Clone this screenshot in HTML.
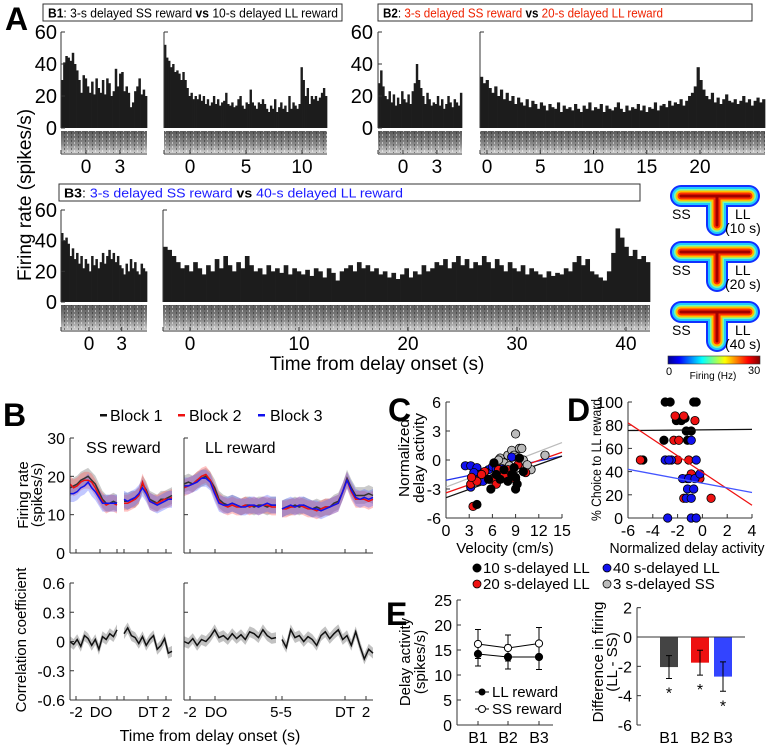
<!DOCTYPE html>
<html><head><meta charset="utf-8">
<style>
html,body{margin:0;padding:0;background:#fff;}
svg{display:block;font-family:"Liberation Sans",sans-serif;}
</style></head>
<body>
<svg id="fig" width="767" height="749" viewBox="0 0 767 749" xmlns="http://www.w3.org/2000/svg">
<defs>
<linearGradient id="rasterGrad" x1="0" y1="0" x2="0" y2="1">
<stop offset="0" stop-color="#5a5a5a"/><stop offset="0.6" stop-color="#8a8a8a"/><stop offset="1" stop-color="#d0d0d0"/>
</linearGradient>
<pattern id="rasterPat" width="7" height="4" patternUnits="userSpaceOnUse">
<rect width="7" height="4" fill="none"/>
<rect x="1" y="0" width="1" height="2" fill="#222" opacity="0.5"/>
<rect x="4" y="2" width="1" height="2" fill="#fff" opacity="0.5"/>
</pattern>
<linearGradient id="jet" x1="0" y1="0" x2="1" y2="0">
<stop offset="0" stop-color="#00008f"/><stop offset="0.12" stop-color="#0000ff"/><stop offset="0.37" stop-color="#00ffff"/><stop offset="0.62" stop-color="#ffff00"/><stop offset="0.87" stop-color="#ff0000"/><stop offset="1" stop-color="#800000"/>
</linearGradient>
</defs>

<text x="5" y="30" font-size="32" font-weight="bold">A</text>
<text x="3" y="426" font-size="32" font-weight="bold">B</text>
<text x="388" y="421" font-size="32" font-weight="bold">C</text>
<text x="567" y="421" font-size="32" font-weight="bold">D</text>
<text x="386" y="625" font-size="32" font-weight="bold">E</text>

<g>
<rect x="43" y="4" width="299" height="17" fill="#fff" stroke="#333" stroke-width="1"/>
<text x="48" y="17.5" font-size="13" textLength="290" lengthAdjust="spacingAndGlyphs"><tspan font-weight="bold">B1</tspan>: 3-s delayed SS reward <tspan font-weight="bold">vs</tspan> 10-s delayed LL reward</text>
</g>
<g>
<rect x="378" y="4" width="374" height="17" fill="#fff" stroke="#333" stroke-width="1"/>
<text x="383" y="17.5" font-size="13" textLength="280" lengthAdjust="spacingAndGlyphs"><tspan font-weight="bold">B2</tspan>: <tspan fill="#ee2200">3-s delayed SS reward</tspan> <tspan font-weight="bold">vs</tspan> <tspan fill="#ee2200">20-s delayed LL reward</tspan></text>
</g>
<g>
<rect x="59" y="184" width="581" height="17" fill="#fff" stroke="#333" stroke-width="1"/>
<text x="64" y="197.5" font-size="13" textLength="339" lengthAdjust="spacingAndGlyphs"><tspan font-weight="bold">B3</tspan>: <tspan fill="#1a1aff">3-s delayed SS reward</tspan> <tspan font-weight="bold">vs</tspan> <tspan fill="#1a1aff">40-s delayed LL reward</tspan></text>
</g>

<text transform="translate(31,195) rotate(-90)" text-anchor="middle" font-size="19">Firing rate (spikes/s)</text>
<text x="377" y="370" text-anchor="middle" font-size="19">Time from delay onset (s)</text>

<g font-size="16">
<rect x="100" y="414" width="7" height="2.5" fill="#111"/><text x="110" y="421">Block 1</text>
<rect x="178" y="414" width="7" height="2.5" fill="#ee1111"/><text x="189" y="421">Block 2</text>
<rect x="258" y="414" width="7" height="2.5" fill="#1111ee"/><text x="270" y="421">Block 3</text>
</g>
<text x="86" y="453" font-size="16">SS reward</text>
<text x="205" y="453" font-size="16">LL reward</text>
<text transform="translate(28,495) rotate(-90)" text-anchor="middle" font-size="15">Firing rate</text>
<text transform="translate(42,495) rotate(-90)" text-anchor="middle" font-size="15">(spikes/s)</text>
<text transform="translate(26,640) rotate(-90)" text-anchor="middle" font-size="15">Correlation coefficient</text>
<text x="210" y="741" text-anchor="middle" font-size="16">Time from delay onset (s)</text>

<text transform="translate(409,458) rotate(-90)" text-anchor="middle" font-size="15" textLength="78" lengthAdjust="spacingAndGlyphs">Normalized</text>
<text transform="translate(424,458) rotate(-90)" text-anchor="middle" font-size="15" textLength="90" lengthAdjust="spacingAndGlyphs">delay activity</text>
<text x="505" y="553" text-anchor="middle" font-size="15">Velocity (cm/s)</text>
<text transform="translate(601,460) rotate(-90)" text-anchor="middle" font-size="14" textLength="122" lengthAdjust="spacingAndGlyphs">% Choice to LL reward</text>
<text x="687" y="553" text-anchor="middle" font-size="15" textLength="155" lengthAdjust="spacingAndGlyphs">Normalized delay activity</text>

<g font-size="15">
<circle cx="477" cy="568" r="4" fill="#000" stroke="#000"/><text x="483" y="573">10 s-delayed LL</text>
<circle cx="477" cy="584" r="4" fill="#ee1111" stroke="#000" stroke-width="0.8"/><text x="483" y="589">20 s-delayed LL</text>
<circle cx="607" cy="568" r="4" fill="#1111ee" stroke="#000" stroke-width="0.8"/><text x="613" y="573">40 s-delayed LL</text>
<circle cx="607" cy="584" r="4" fill="#bbb" stroke="#000" stroke-width="0.8"/><text x="613" y="589">3 s-delayed SS</text>
</g>

<text transform="translate(410,662) rotate(-90)" text-anchor="middle" font-size="15">Delay activity</text>
<text transform="translate(425,662) rotate(-90)" text-anchor="middle" font-size="15">(spikes/s)</text>
<g font-size="15">
<line x1="475" y1="692" x2="489" y2="692" stroke="#000"/><circle cx="482" cy="692" r="3.5" fill="#000"/><text x="492" y="697">LL reward</text>
<line x1="475" y1="709" x2="489" y2="709" stroke="#000"/><circle cx="482" cy="709" r="3.5" fill="#fff" stroke="#000"/><text x="492" y="714">SS reward</text>
</g>
<text transform="translate(603,662) rotate(-90)" text-anchor="middle" font-size="15">Difference in firing</text>
<text transform="translate(617,662) rotate(-90)" text-anchor="middle" font-size="15">(LL - SS)</text>

<rect x="668" y="356" width="92" height="8" fill="url(#jet)" stroke="#333" stroke-width="0.6"/>
<text x="666" y="375" font-size="11">0</text>
<text x="713" y="379" text-anchor="middle" font-size="10">Firing (Hz)</text>
<text x="748" y="374" font-size="11">30</text>

<script>
// ---------- DATA ----------
const b1SS = [30,41,45,44,42,47,40,36,30,22,33,31,26,22,29,21,31,25,22,30,21,31,28,20,23,37,26,34,35,23,26,22,13,16,23,26,31,21,24,20];
const b1LL = [52,44,42,38,40,35,36,34,30,35,30,25,20,22,18,20,18,21,17,20,15,18,14,16,20,15,18,14,16,17,22,15,14,16,13,14,18,20,14,12,16,15,24,16,14,12,16,15,18,15,12,10,14,12,18,10,13,16,12,14,10,20,12,16,14,12,15,38,30,20,25,15,20,18,20,17,19,22,25,20];
const b2SS = [28,36,26,20,18,23,16,21,14,19,15,23,18,16,21,15,23,28,40,30,25,20,15,22,18,14,16,15,20,14,18,12,15,20,16,13,18,16,14,22];
const b2LL = [32,28,30,25,22,26,20,24,18,22,17,20,15,19,16,14,18,13,17,15,12,16,14,11,15,13,12,16,10,14,12,13,11,15,12,10,14,12,16,11,13,12,15,10,14,12,11,13,16,12,10,14,11,13,12,15,11,14,10,13,12,16,11,14,15,13,17,14,16,15,18,14,17,20,22,26,38,30,24,20,18,22,16,19,15,18,21,17,16,18,15,17,20,16,18,14,17,19,16,18];
const b3SS = [45,40,42,38,30,35,28,32,25,30,22,28,25,20,30,24,28,22,26,32,25,30,34,28,32,26,30,24,22,18,25,20,28,22,26,20,18,25,22,20];
const b3LL = [36,34,30,26,22,24,20,26,22,18,24,20,28,22,30,24,20,26,22,30,24,20,22,18,24,20,22,19,24,18,22,20,18,21,17,22,20,16,22,19,14,20,22,24,20,26,22,24,20,22,18,20,16,19,15,18,22,16,20,18,24,20,22,26,24,28,22,26,30,24,28,22,26,24,30,26,22,28,24,20,26,22,20,24,18,22,20,18,16,20,17,19,18,22,20,26,30,24,28,20,18,16,14,20,32,48,42,36,30,34,28,30,26];
const histTicks = [0,20,40,60];

const ssSeg1B1 = [17,17.5,18,19,19.5,20,19,18,16,14,13,13,13.5,13];
const ssSeg1B2 = [18,17,17.5,18.5,19,19,18.5,17,15,13.5,12.5,13,13,12.5];
const ssSeg1B3 = [15.5,15.5,16,17,17.5,18.5,17,16,14.5,13,13,13,13,13];
const ssSeg2B1 = [13.5,13.5,14,14,15,18,16.5,14,13.5,13,14,14,14.5,15];
const ssSeg2B2 = [13,13,13.5,14,15,18.5,16,13.5,13,13,13.5,14,14,14.5];
const ssSeg2B3 = [14,13.5,14,14.5,15.5,17,15.5,13.5,13,12.5,13,13.5,14,14];
const llSeg1B1 = [18,18.5,18,19,19.5,20,19,17,14,13,12.5,13,12.5,12,12.5,12.5,12,12.5,12.5,12,12.5,12.5];
const llSeg1B2 = [17,17.5,18,19,20,20.5,19,16,13.5,12.5,12,12.5,12,12,12.5,12,12.5,12,12.5,12.5,12,12];
const llSeg1B3 = [17.5,17.5,18,18.5,19.5,19.5,18.5,15.5,13,12.5,12.5,13,12.5,12,12,12.5,12.5,12,12.5,13,12.5,12.5];
const llSeg2B1 = [11.5,12,12,12.5,12,12.5,12,11.5,12,11.5,12,12,13,13.5,16,19.5,17,15,15,15,15.5,15];
const llSeg2B2 = [11.5,11.5,12,12,12.5,12,11.5,11.5,11,11.5,12,12,12.5,13,16,19,16,14,14,14,13.5,14];
const llSeg2B3 = [11.5,12,12.5,12,12.5,12.5,12,11.5,11.5,11,11.5,12,12.5,13,16,19,16.5,14.5,14,14.5,14,14.5];
const corrSS1 = [0,-0.03,0.02,-0.05,0.06,0.03,-0.04,0.02,-0.08,0.05,0.02,0.08,0.05,0.12];
const corrSS2 = [0.08,0.14,0.06,0.04,-0.02,0.05,-0.04,0.02,0.06,-0.08,-0.04,0.03,-0.12,-0.1];
const corrLL1 = [0,-0.02,0.03,-0.04,0.02,0,0.05,0.12,0.04,0.06,0.02,0.08,0.03,0.07,0.02,0.1,0.08,0.04,0.12,0.06,0.03,0.04];
const corrLL2 = [0.02,-0.06,0.12,0.04,0.06,0,0.05,0.02,-0.04,0.06,0.1,0.03,0.08,0.12,0.02,0.06,-0.04,0.1,-0.05,-0.18,-0.08,-0.12];
const frTicks = [0,10,20,30];
const corrTicks = [-0.6,-0.3,0,0.3,0.6];

const cBlackX = [4,5.5,5.8,6.5,7,7.5,8,8.5,9,9,9.5,9.2,8.8,10,6.2];
const cBlackY = [-4.6,-2,-3,-1.5,-2,-1,-2.2,-1.5,-3,-1.8,0.2,-2.5,-0.8,-1.2,-0.3];
const cRedX = [3.2,3.5,4,5,6,6.5,7,7.5,8,9,9.3,10.3,4.6,6.8,3.3];
const cRedY = [-2.5,-4.8,-2.2,-1.2,-2,-2.5,-1.8,-1.6,-1,-2,-0.5,-1.3,-1.5,-1,-1.8];
const cBlueX = [2.5,3.2,3.2,4,4.3,4.8,5.5,6,6.5,7.3,5.7,8.5,7,3.6,6.2];
const cBlueY = [-0.6,-0.6,-2.8,-0.8,-1.5,-2.2,-1,-0.7,-0.9,-0.9,-2,0.3,-1.4,-1.3,-1.8];
const cGrayX = [7,7.5,8,8.2,8.5,9,9.5,10,11,12.8,6.5,7.8,8.8,6.8,9.2,9.8,7.2,10.5,8];
const cGrayY = [0.2,-0.3,0.5,-0.6,1,2.7,1.2,0,-1,0.5,-0.8,-1.7,0.5,0,0.3,1.2,-1.5,-0.5,-1.3];
const cSlopes = [0.287,0.28,0.167,0.307];
const cIntercepts = [-3.9,-3.4,-2.1,-2.8];
const cXTicks = [0,3,6,9,12,15];
const cYTicks = [-6,-3,0,3,6];

const dBlackX = [-3,-2.6,-0.7,-0.5,-3.1,-1.3,-0.9,-1.7,-1.4,-2.1,-4.8,-1.2];
const dBlackY = [100,100,100,100,67,75,75,84,86,84,50,67];
const dRedX = [-5,-2.2,-1.5,-0.6,-2.3,-1.9,-1.1,-2,-1.5,0.7,-0.2,-1.2,-0.9];
const dRedY = [50,88,88,84,67,67,50,50,17,17,34,34,38];
const dBlueX = [-2.8,-0.9,-0.5,-3,-2.5,-0.5,-0.9,-1.6,-1.1,-0.6,-0.2,-1.2,-0.7,-1.3,-0.9,-2.7];
const dBlueY = [0,0,0,50,50,50,67,34,34,34,38,25,25,17,17,50];
const dSlopes = [0.1,-7.1,-2];
const dIntercepts = [76,39.4,30];
const dXTicks = [-6,-4,-2,0,2,4];
const dYTicks = [0,20,40,60,80,100];

const eCats = ['B1','B2','B3'];
const eLL = [14.2,13.6,13.6];
const eLLErr = [2.4,2.4,2.5];
const eSS = [16.2,15.4,16.3];
const eSSErr = [2.9,2.6,3.2];
const eYTicks = [0,5,10,15,20,25];
const diffVals = [-2.05,-1.75,-2.7];
const diffErr = [0.78,0.85,1.0];
const diffYTicks = [-6,-4,-2,0,2];

// ---------- DRAW ----------
const NS='http://www.w3.org/2000/svg';
const svg=document.getElementById('fig');
function mk(tag,attrs,parent){const e=document.createElementNS(NS,tag);for(const k in attrs)e.setAttribute(k,attrs[k]);(parent||svg).appendChild(e);return e;}
function lin(d0,d1,r0,r1){return v=>r0+(v-d0)*(r1-r0)/(d1-d0);}

function hist(vals,x0,x1,base,top,name){
  const y=lin(0,60,base,top);const w=(x1-x0)/vals.length;
  const g=mk('g',{});
  
  
  vals.forEach((v,i)=>{
    const r=mk('rect',{x:x0+i*w,y:y(v),width:w+0.35,height:base-y(v),fill:'#1c1c1c'},g);
    
    
  });
}
function raster(x0,x1,y0,y1,name){
  const a=mk('rect',{x:x0,y:y0,width:x1-x0,height:y1-y0,fill:'url(#rasterGrad)'});
  
  
  const b=mk('rect',{x:x0,y:y0,width:x1-x0,height:y1-y0,fill:'url(#rasterPat)'});
  
  
}
function yAxisHist(x,base,top,labels,name,labelX){
  const y=lin(0,60,base,top);
  const l=mk('line',{x1:x,y1:top,x2:x,y2:base,stroke:'#333','stroke-width':1});
  
  
  histTicks.forEach(t=>{
    if(!labels && t!==60) return;
    mk('line',{x1:x,y1:y(t),x2:x+4,y2:y(t),stroke:'#333'});
    if(labels){
      const tx=mk('text',{x:labelX,y:y(t)+7,'text-anchor':'end','font-size':20});
      tx.textContent=t;
      
      
    }
  });
}
function xAxisTime(x0,x1,yAx,zeroX,pxPerS,ticks,name){
  const l=mk('line',{x1:x0,y1:yAx,x2:x1,y2:yAx,stroke:'#333'});
  
  
  mk('line',{x1:x0,y1:yAx-4,x2:x0,y2:yAx,stroke:'#333'});
  ticks.forEach(t=>{
    const x=zeroX+t*pxPerS;
    mk('line',{x1:x,y1:yAx-4,x2:x,y2:yAx,stroke:'#333'});
    const tx=mk('text',{x:x,y:yAx+19,'text-anchor':'middle','font-size':19});
    tx.textContent=t;
    
    
  });
}
hist(b1SS,61,147,128,32,'b1-ss-histogram');hist(b1LL,164,327,128,32,'b1-ll-histogram');
raster(61,147,131,153,'b1-ss-raster');raster(164,327,131,153,'b1-ll-raster');
yAxisHist(61,128,32,true,'b1-y-axis',57);yAxisHist(164,128,32,false,'b1-ll-y-axis');
xAxisTime(61,147,154,86,11.3,[0,3],'b1-ss-x-axis');xAxisTime(164,327,154,190,11.2,[0,5,10],'b1-ll-x-axis');
hist(b2SS,378,462,128,32,'b2-ss-histogram');hist(b2LL,480,765,128,32,'b2-ll-histogram');
raster(378,462,131,153,'b2-ss-raster');raster(480,765,131,153,'b2-ll-raster');
yAxisHist(378,128,32,true,'b2-y-axis',373);yAxisHist(480,128,32,false,'b2-ll-y-axis');
xAxisTime(378,462,154,403,11.3,[0,3],'b2-ss-x-axis');xAxisTime(480,765,154,487,10.65,[0,5,10,15,20],'b2-ll-x-axis');
hist(b3SS,61,147,302,210,'b3-ss-histogram');hist(b3LL,163,650,302,210,'b3-ll-histogram');
raster(61,147,305,330,'b3-ss-raster');raster(163,650,305,330,'b3-ll-raster');
yAxisHist(61,302,210,true,'b3-y-axis',57);yAxisHist(163,302,210,false,'b3-ll-y-axis');
xAxisTime(61,147,331,89,10.9,[0,3],'b3-ss-x-axis');xAxisTime(163,650,331,190,10.9,[0,10,20,30,40],'b3-ll-x-axis');

const heatTops=[185,241,301];const heatLabels=['(10 s)','(20 s)','(40 s)'];
const heatCols=[['#1030ff',22],['#20c8ff',18],['#70ffb0',14],['#ffc000',11],['#ff3000',7],['#a00000',3]];
heatTops.forEach((t,i)=>{
  const g=mk('g',{});
  
  
  heatCols.forEach(([c,w])=>{
    mk('path',{d:`M681 ${t+11} L749 ${t+11} M717 ${t+11} L717 ${t+40}`,stroke:c,'stroke-width':w,'stroke-linecap':'round','stroke-linejoin':'round',fill:'none'},g);
  });
  const s=mk('text',{x:672,y:t+34,'font-size':14},g);s.textContent='SS';
  const l=mk('text',{x:735,y:t+34,'font-size':14},g);l.textContent='LL';
  const d=mk('text',{x:725,y:t+48,'font-size':14},g);d.textContent=heatLabels[i];
});

const frY=lin(0,30,553,438);const crY=lin(0,0.6,641.5,583);
function seriesPath(vals,x0,x1,yf){const n=vals.length;return vals.map((v,i)=>(i?'L':'M')+(x0+i*(x1-x0)/(n-1)).toFixed(1)+' '+yf(v).toFixed(1)).join(' ');}
function band(vals,x0,x1,yf,err){const n=vals.length;let d='';vals.forEach((v,i)=>{d+=(i?'L':'M')+(x0+i*(x1-x0)/(n-1)).toFixed(1)+' '+yf(v+err).toFixed(1);});for(let i=n-1;i>=0;i--){d+='L'+(x0+i*(x1-x0)/(n-1)).toFixed(1)+' '+yf(vals[i]-err).toFixed(1);}return d+'Z';}
const segs=[[70,117],[124,172],[184,276],[282,373]];
const frData=[[ssSeg1B1,ssSeg1B2,ssSeg1B3],[ssSeg2B1,ssSeg2B2,ssSeg2B3],[llSeg1B1,llSeg1B2,llSeg1B3],[llSeg2B1,llSeg2B2,llSeg2B3]];
const blockCols=['#333','#ee1111','#1111ee'];const bandCols=['#666','#ff5050','#5060ff'];
frData.forEach((blocks,si)=>{
  const [x0,x1]=segs[si];
  blocks.forEach((vals,bi)=>{
    const b=mk('path',{d:band(vals,x0,x1,frY,2.2),fill:bandCols[bi],opacity:0.35});
    
    
  });
  [0,1,2].forEach(bi=>{
    const p=mk('path',{d:seriesPath(blocks[bi],x0,x1,frY),stroke:blockCols[bi],'stroke-width':1.5,fill:'none'});
    
    
  });
});
[corrSS1,corrSS2,corrLL1,corrLL2].forEach((vals,si)=>{
  const [x0,x1]=segs[si];
  const b=mk('path',{d:band(vals,x0,x1,crY,0.055),fill:'#999',opacity:0.6});
  
  
  const p=mk('path',{d:seriesPath(vals,x0,x1,crY),stroke:'#111','stroke-width':1.5,fill:'none'});
  
  
});
function bAxes(ax,x0,x1,yTop,yBot,ticks,yf,labels,fmt){
  mk('line',{x1:ax,y1:yTop,x2:ax,y2:yBot,stroke:'#333'});
  mk('line',{x1:x0,y1:yBot,x2:x1,y2:yBot,stroke:'#333'});
  ticks.forEach(t=>{
    mk('line',{x1:ax,y1:yf(t),x2:ax+4,y2:yf(t),stroke:'#333'});
    if(labels){const tx=mk('text',{x:ax-5,y:yf(t)+6,'text-anchor':'end','font-size':16});tx.textContent=fmt(t);
      
      }
  });
}
bAxes(70,70,172,438,553,frTicks,frY,true,t=>t);bAxes(184,184,373,438,553,[10,30],frY,false);
bAxes(70,70,172,583,700,corrTicks,crY,true,t=>t===0?'0':t.toFixed(1));bAxes(184,184,373,583,700,[0.3,0.6],crY,false);
[[76,100,117,124,148,166],[190,215,276,282,345,366]].forEach(xs=>xs.forEach(x=>{mk('line',{x1:x,y1:549,x2:x,y2:553,stroke:'#333'});mk('line',{x1:x,y1:696,x2:x,y2:700,stroke:'#333'});}));
[['-2',76],['DO',101],['DT',148],['2',166],['-2',190],['DO',216],['5-5',281],['DT',345],['2',366]].forEach(([s,x])=>{
  const tx=mk('text',{x:x,y:717,'text-anchor':'middle','font-size':15});tx.textContent=s;
  
  
});

const cx=lin(0,15,446,562),cy=lin(-6,6,518,402);
mk('line',{x1:446,y1:402,x2:446,y2:518,stroke:'#333'});mk('line',{x1:446,y1:518,x2:562,y2:518,stroke:'#333'});
cXTicks.forEach(t=>{mk('line',{x1:cx(t),y1:514,x2:cx(t),y2:518,stroke:'#333'});const tx=mk('text',{x:cx(t),y:536,'text-anchor':'middle','font-size':16});tx.textContent=t;
  
  });
cYTicks.forEach(t=>{mk('line',{x1:446,y1:cy(t),x2:450,y2:cy(t),stroke:'#333'});const tx=mk('text',{x:441,y:cy(t)+6,'text-anchor':'end','font-size':16});tx.textContent=t;
  
  });
const cLineCols=['#111','#ee1111','#2233ee','#bbb'];
const cGroups=[[cBlackX,cBlackY,'#000'],[cRedX,cRedY,'#ee1111'],[cBlueX,cBlueY,'#1111ee'],[cGrayX,cGrayY,'#bbb']];
[3,2,1,0].forEach(i=>{
  const p=mk('line',{x1:cx(0),y1:cy(cIntercepts[i]),x2:cx(15),y2:cy(cIntercepts[i]+cSlopes[i]*15),stroke:cLineCols[i],'stroke-width':1.3});
  
  
});
[3,2,1,0].forEach(gi=>{const [xs,ys,c]=cGroups[gi];xs.forEach((x,i)=>{
  const d=mk('circle',{cx:cx(x),cy:cy(ys[i]),r:4.2,fill:c,stroke:'#000','stroke-width':0.8});
  
  
});});

const dx=lin(-6,4,628,752),dy=lin(0,100,518,402);
mk('line',{x1:628,y1:402,x2:628,y2:518,stroke:'#333'});mk('line',{x1:628,y1:518,x2:752,y2:518,stroke:'#333'});
dXTicks.forEach(t=>{mk('line',{x1:dx(t),y1:514,x2:dx(t),y2:518,stroke:'#333'});const tx=mk('text',{x:dx(t),y:536,'text-anchor':'middle','font-size':16});tx.textContent=t;
  
  });
dYTicks.forEach(t=>{mk('line',{x1:628,y1:dy(t),x2:632,y2:dy(t),stroke:'#333'});const tx=mk('text',{x:623,y:dy(t)+6,'text-anchor':'end','font-size':16});tx.textContent=t;
  
  });
[[dBlackX,dBlackY,'#000'],[dRedX,dRedY,'#ee1111'],[dBlueX,dBlueY,'#1111ee']].forEach(([xs,ys,c])=>xs.forEach((x,i)=>{
  const d=mk('circle',{cx:dx(x),cy:dy(ys[i]),r:4.2,fill:c,stroke:'#000','stroke-width':0.8});
  
  
}));
const dLineCols=['#111','#ee1111','#4455ff'];
dSlopes.forEach((s,i)=>{
  const p=mk('line',{x1:dx(-6),y1:dy(dIntercepts[i]+s*-6),x2:dx(4),y2:dy(dIntercepts[i]+s*4),stroke:dLineCols[i],'stroke-width':1.3});
  
  
});

const ex=[478,508,539];const ey=lin(0,25,725,600);
mk('line',{x1:457,y1:600,x2:457,y2:725,stroke:'#333'});mk('line',{x1:457,y1:725,x2:553,y2:725,stroke:'#333'});
eYTicks.forEach(t=>{mk('line',{x1:457,y1:ey(t),x2:461,y2:ey(t),stroke:'#333'});const tx=mk('text',{x:452,y:ey(t)+6,'text-anchor':'end','font-size':16});tx.textContent=t;
  
  });
eCats.forEach((c,i)=>{mk('line',{x1:ex[i],y1:721,x2:ex[i],y2:725,stroke:'#333'});const tx=mk('text',{x:ex[i],y:743,'text-anchor':'middle','font-size':16});tx.textContent=c;
  
  });
[[eLL,eLLErr,'#000'],[eSS,eSSErr,'#fff']].forEach(([vals,errs,fill])=>{
  const p=mk('path',{d:vals.map((v,i)=>(i?'L':'M')+ex[i]+' '+ey(v)).join(' '),stroke:'#000',fill:'none'});
  
  
  vals.forEach((v,i)=>{
    const e=mk('path',{d:`M${ex[i]} ${ey(v-errs[i])} V${ey(v+errs[i])} M${ex[i]-3} ${ey(v-errs[i])} h6 M${ex[i]-3} ${ey(v+errs[i])} h6`,stroke:'#000',fill:'none'});
    
    
    const d=mk('circle',{cx:ex[i],cy:ey(v),r:3.6,fill:fill,stroke:'#000'});
    
    
  });
});

const bx=[669,700,723];const by=lin(0,-6,637,725);const barCols=['#444','#ee1111','#3344ff'];
mk('line',{x1:637,y1:by(2),x2:637,y2:by(-6),stroke:'#333'});
diffYTicks.forEach(t=>{mk('line',{x1:637,y1:by(t),x2:641,y2:by(t),stroke:'#333'});const tx=mk('text',{x:632,y:by(t)+6,'text-anchor':'end','font-size':16});tx.textContent=t;
  
  });
diffVals.forEach((v,i)=>{
  const r=mk('rect',{x:bx[i]-9,y:by(0),width:18,height:by(v)-by(0),fill:barCols[i]});
  
  
  const e=mk('path',{d:`M${bx[i]} ${by(v-diffErr[i])} V${by(v+diffErr[i])} M${bx[i]-3} ${by(v-diffErr[i])} h6 M${bx[i]-3} ${by(v+diffErr[i])} h6`,stroke:'#000',fill:'none'});
  
  
  const s=mk('text',{x:bx[i],y:by(v-diffErr[i])+20,'text-anchor':'middle','font-size':16});s.textContent='*';
  
  
  const tx=mk('text',{x:bx[i],y:743,'text-anchor':'middle','font-size':16});tx.textContent=eCats[i];
  
  
});
mk('line',{x1:637,y1:by(0),x2:745,y2:by(0),stroke:'#333'});
</script>
</svg>
</body></html>
